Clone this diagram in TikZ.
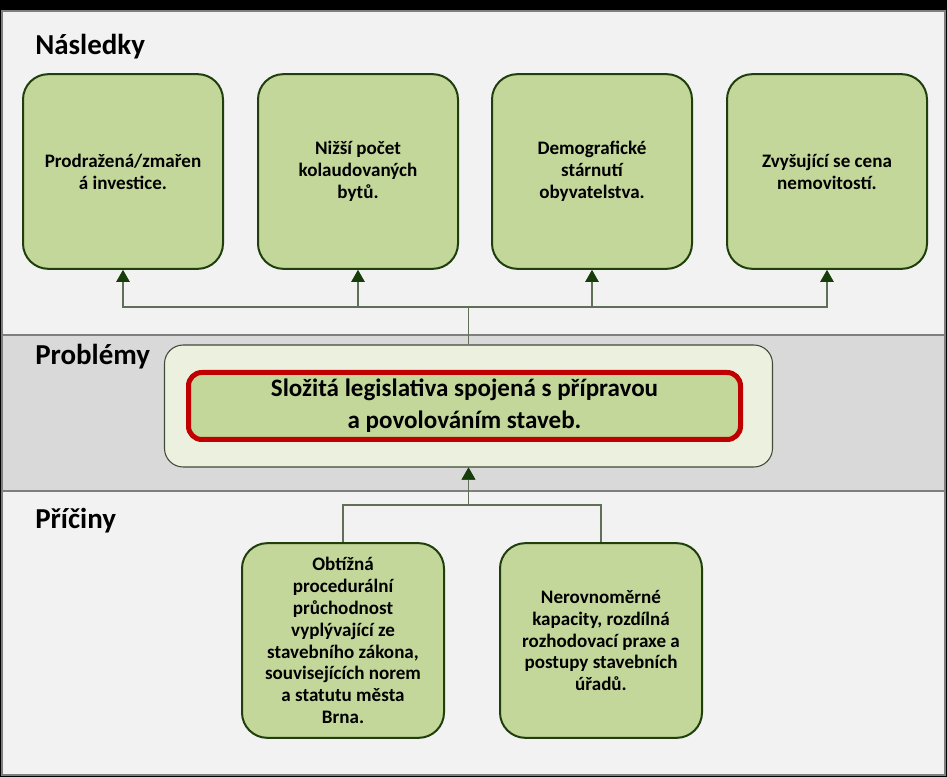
\documentclass[tikz,border=0pt]{standalone}
\usepackage{fontspec}
\setmainfont{Carlito}
\usetikzlibrary{arrows.meta}

\definecolor{pasmosvetle}{HTML}{F2F2F2}
\definecolor{pasmotmave}{HTML}{D9D9D9}
\definecolor{delici}{HTML}{7F7F7F}
\definecolor{blokzelena}{HTML}{C4D79B}
\definecolor{blokokraj}{HTML}{1F3F0C}
\definecolor{rameczelena}{HTML}{EBF1DE}
\definecolor{ramecokraj}{HTML}{404A38}
\definecolor{cervena}{HTML}{C00000}
\definecolor{spojka}{HTML}{5F6F58}
\definecolor{hrot}{HTML}{173D0A}

\tikzset{
	nadpis/.style = {anchor=base west, inner sep=0pt, font=\fontsize{21.7}{26}\selectfont\bfseries},
	blok/.style = {draw=blokokraj, line width=1.5pt, fill=blokzelena, rounded corners=19pt,
		minimum width=150pt, minimum height=146pt, align=center,
		font=\fontsize{14.3}{16.4}\selectfont\bfseries},
	sipka/.style = {draw=spojka, line width=1pt, -{Triangle[width=10pt,length=9pt,color=hrot]}},
}

\begin{document}
\begin{tikzpicture}[x=0.75pt, y=-0.75pt]
							% pozadi a pasma
							\fill (0,0) rectangle (947,777);
							\useasboundingbox (0,0) rectangle (947,777);
							\fill [pasmosvetle] (2,11) rectangle (945,335);
							\fill [pasmotmave] (2,335) rectangle (945,491);
							\fill [pasmosvetle] (2,491) rectangle (945,775);
							\draw [delici, line width=1.5pt] (2,335) -- (945,335) (2,491) -- (945,491);
							\draw [delici, line width=1.5pt] (2,11) rectangle (945,775);
				
							\node [nadpis] (hnasl) at (35,55) {Následky};
							\node [nadpis] (hprob) at (35,365) {Problémy};
							\node [nadpis] (hpric) at (35,528) {Příčiny};
				
							% nasledky
							\foreach \i/\x/\txt in {1/123/{Prodražená/zmařen\\á investice.},
								2/358/{Nižší počet\\kolaudovaných\\bytů.},
								3/592/{Demografické\\stárnutí\\obyvatelstva.},
								4/827/{Zvyšující se cena\\nemovitostí.}}
							{
								\node [blok] (nasl\i) at (\x,171.5) {\txt};
							}
				
							% problem
							\node [draw=ramecokraj, line width=0.8pt, fill=rameczelena, rounded corners=14pt,
								minimum width=456pt, minimum height=91.5pt] (prob) at (468.5,406) {};
							\node [draw=cervena, line width=3.75pt, fill=blokzelena, rounded corners=10pt,
								minimum width=414pt, minimum height=50.25pt, align=center,
								font=\fontsize{18.8}{24}\selectfont\bfseries] (slozita) at (464.5,406)
								{Složitá legislativa spojená s přípravou\\a povolováním staveb.};
				
							% priciny
							\node [blok, minimum width=151.5pt] (pric1) at (343,640.5)
								{Obtížná\\procedurální\\průchodnost\\vyplývající ze\\stavebního zákona,\\souvisejících norem\\a statutu města\\Brna.};
							\node [blok, minimum width=151.5pt] (pric2) at (601,640.5)
								{Nerovnoměrné\\kapacity, rozdílná\\rozhodovací praxe a\\postupy stavebních\\úřadů.};
				
							% spojnice
							\coordinate (sbernice) at (0,307);
							\coordinate (sbernice2) at (0,505);
							\foreach \i in {1,...,4}
							{
								\draw [sipka] (prob.north) -- (prob.north |- sbernice) -| (nasl\i.south);
							}
							\foreach \i in {1,2}
							{
								\draw [sipka] (pric\i.north) -- (pric\i.north |- sbernice2) -| (prob.south);
							}
						\end{tikzpicture}
\end{document}
